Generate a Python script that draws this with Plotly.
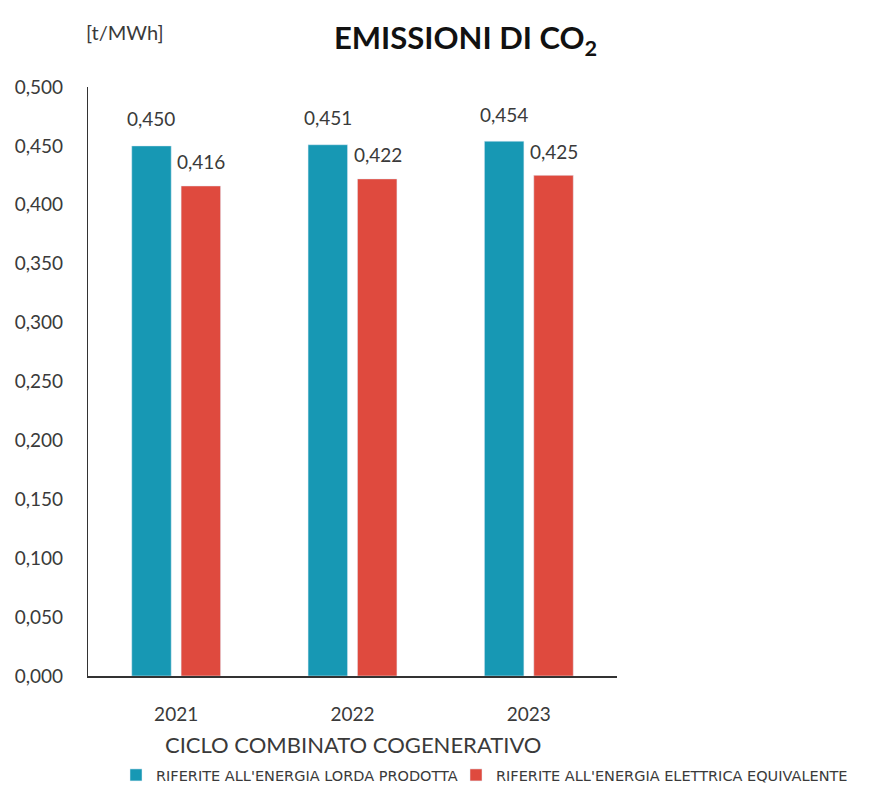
import plotly.graph_objects as go

# Emissioni di CO2 dell'impianto a ciclo combinato cogenerativo [t/MWh]
anni = ["2021", "2022", "2023"]
lorda_prodotta = [0.450, 0.451, 0.454]
elettrica_equivalente = [0.416, 0.422, 0.425]
serie_nomi = ["RIFERITE ALL'ENERGIA LORDA PRODOTTA", "RIFERITE ALL'ENERGIA ELETTRICA EQUIVALENTE"]
y_ticks = [0.0, 0.05, 0.1, 0.15, 0.2, 0.25, 0.3, 0.35, 0.4, 0.45, 0.5]


def virgola(v):
    # decimal comma, three digits
    return f"{v:.3f}".replace(".", ",")


TEAL = "#1798b4"
RED = "#df4a3e"
FONT = "Lato"
GREY = "#3a3a3a"
W, H = 876, 785

fig = go.Figure()
fig.add_trace(go.Bar(x=anni, y=lorda_prodotta, name=serie_nomi[0], marker_color=TEAL,
                     legend="legend"))
fig.add_trace(go.Bar(x=anni, y=elettrica_equivalente, name=serie_nomi[1], marker_color=RED,
                     legend="legend2"))

# value labels above each bar; x is the category index on the category axis
for vals, dx, dy in ((lorda_prodotta, -25, 27), (elettrica_equivalente, 25, 24)):
    for i, v in enumerate(vals):
        fig.add_annotation(x=i, y=v, xref="x", yref="y", xshift=dx, yshift=dy,
                           xanchor="center", yanchor="middle",
                           text=virgola(v), showarrow=False,
                           font=dict(family=FONT, size=19, color=GREY))

fig.add_annotation(text="<b>EMISSIONI DI CO<sub>2</sub></b>", xref="paper", yref="paper",
                   x=0.713, y=1.08, xanchor="center", yanchor="middle", showarrow=False,
                   font=dict(family=FONT, size=31, color="#111111"))
fig.add_annotation(text="[t/MWh]", xref="paper", yref="paper", x=0.07, y=1.093,
                   xanchor="center", yanchor="middle",
                   showarrow=False, font=dict(family=FONT, size=20, color=GREY))
fig.add_annotation(text="CICLO COMBINATO COGENERATIVO", xref="paper", yref="paper",
                   x=0.5, y=-0.117, xanchor="center", yanchor="middle", showarrow=False,
                   font=dict(family=FONT, size=22, color=GREY))

legend_style = dict(orientation="h", xref="container", yref="container",
                    y=1 - 775 / H, xanchor="left", yanchor="middle",
                    font=dict(family="DejaVu Sans", size=14.5, color=GREY),
                    bgcolor="rgba(0,0,0,0)")

fig.update_layout(
    width=W, height=H,
    margin=dict(l=88, r=259, t=87, b=109),
    paper_bgcolor="white", plot_bgcolor="white",
    barmode="group", bargap=0.44, bargroupgap=0.2,
    font=dict(family=FONT, color=GREY),
    legend=dict(legend_style, x=116 / W),
    legend2=dict(legend_style, x=456 / W),
    showlegend=True,
)
fig.update_xaxes(type="category", showline=True, linecolor="#333333", linewidth=1.5,
                 showgrid=False, ticks="outside", ticklen=20, tickcolor="rgba(0,0,0,0)",
                 tickfont=dict(family=FONT, size=19, color=GREY))
fig.update_yaxes(range=[0, 0.5], tickvals=y_ticks, ticktext=[virgola(t) for t in y_ticks],
                 showline=True, linecolor="#333333", linewidth=1.2, showgrid=False,
                 zeroline=False, ticks="outside", ticklen=20, tickcolor="rgba(0,0,0,0)",
                 tickfont=dict(family=FONT, size=19, color=GREY))

fig.write_html("out.html")
